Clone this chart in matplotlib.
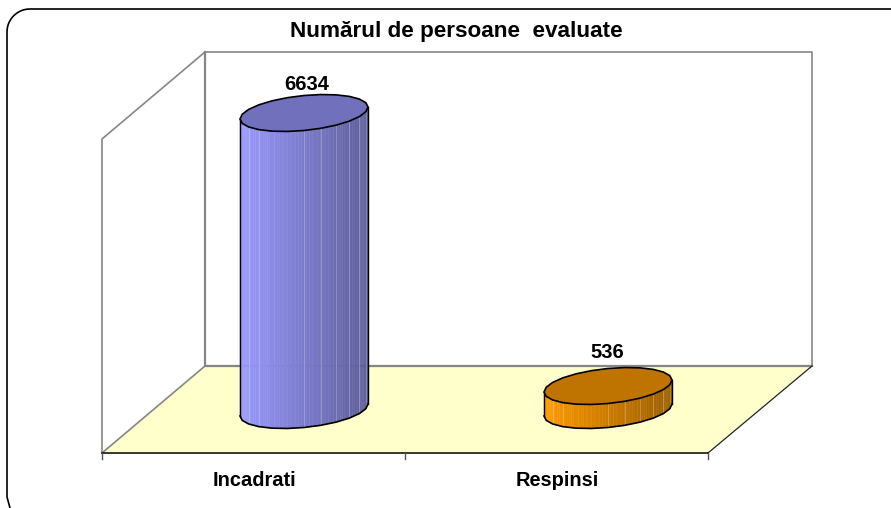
import numpy as np
import matplotlib
matplotlib.use('Agg')
import matplotlib.pyplot as plt
from matplotlib.colors import to_rgb
from matplotlib.patches import Polygon

categories = ['Incadrati', 'Respinsi']
values = [6634, 536]

side_left = ['#9999ff', '#ff9900']
side_right = ['#5c5c99', '#995c00']
top_colors = ['#7070bc', '#bf7300']

W, H = 891, 508
plt.rcParams['font.family'] = ['Liberation Sans', 'DejaVu Sans']

fig = plt.figure(figsize=(W / 100, H / 100), dpi=100)
ax = fig.add_axes([0, 0, 1, 1])
ax.set_xlim(0, W)
ax.set_ylim(H, 0)
ax.axis('off')

# rounded border, the right side and the bottom fall outside the picture
r = 23
t = np.linspace(np.pi, 1.5 * np.pi, 30)
bx = np.r_[10, 7, 7 + r + r * np.cos(t), W + 2]
by = np.r_[H, 497, 9 + r + r * np.sin(t), 9]
ax.plot(bx, by, color='black', lw=1.2)

# walls and floor
ax.add_patch(Polygon([(205, 366), (812, 366), (708, 453), (102, 453)], fc='#ffffcc', ec='none'))
gray = '#868686'
ax.plot([102, 102, 205, 812, 812], [453, 139, 52, 52, 366], color=gray, lw=1.2)
ax.plot([205, 205, 812], [52, 366, 366], color=gray, lw=1.6)
ax.plot([102, 205], [453, 366], color=gray, lw=1.2)
ax.plot([708, 812], [453, 366], color='#222222', lw=0.9)

# category axis
ax.plot([102, 708], [453, 453], color='black', lw=1.1)
for x in [102, 405, 708]:
    ax.plot([x, x], [453, 459], color='#555555', lw=1)

# cylinders
centers = [304, 608]
base_y = 410
px_per_unit = 297 / values[0]
a, b, k = 64, 17.5, 6
label_dx = [3, -1]
label_dy = [29, 34]

facets = np.linspace(0, 2 * np.pi, 25)


def rim(cx, cy, t):
    # the original ellipses are drawn as coarse polygons
    x = cx + a * np.cos(facets)
    y = cy + b * np.sin(facets) - k * np.cos(facets)
    return np.interp(t, facets, x), np.interp(t, facets, y)


for i, val in enumerate(values):
    cx = centers[i]
    height = val * px_per_unit
    top_y = base_y - height
    c0, c1 = np.array(to_rgb(side_left[i])), np.array(to_rgb(side_right[i]))

    ts = np.linspace(np.pi, 0, 73)
    xs, ys = rim(cx, base_y, ts)
    for j in range(len(ts) - 1):
        col = c0 + (c1 - c0) * (xs[j] - (cx - a)) / (2 * a)
        ax.add_patch(Polygon([(xs[j], ys[j] - height), (xs[j + 1], ys[j + 1] - height),
                              (xs[j + 1], ys[j + 1]), (xs[j], ys[j])],
                             fc=col, ec=col, lw=0.3, zorder=3))

    # thin light seams between the side facets
    for deg in [15, 30, 45, 60, 75, 90, 135, 150]:
        sx, sy = rim(cx, base_y, np.radians(deg))
        ax.plot([sx, sx], [sy - height, sy], color='white', alpha=0.25, lw=0.7, zorder=3)

    ax.plot(xs, ys, color='black', lw=1.2, zorder=4)
    ax.plot([cx - a, cx - a], [top_y + k, base_y + k], color='black', lw=1, zorder=4)
    ax.plot([cx + a, cx + a], [top_y - k, base_y - k], color='black', lw=1, zorder=4)
    xt, yt = rim(cx, top_y, facets)
    ax.add_patch(Polygon(np.c_[xt, yt], fc=top_colors[i], ec='black', lw=1.2, zorder=5))
    ax.text(cx + label_dx[i], top_y - label_dy[i], str(val), ha='center', va='center',
            fontsize=14.5, fontweight='bold', zorder=6)

ax.text(254, 480, categories[0], ha='center', va='center', fontsize=14.4, fontweight='bold')
ax.text(557, 480, categories[1], ha='center', va='center', fontsize=14.4, fontweight='bold')
ax.text(456.5, 31.5, 'Numărul de persoane  evaluate', ha='center', va='center', fontsize=16.2, fontweight='bold')

fig.savefig('out.png', dpi=100)
